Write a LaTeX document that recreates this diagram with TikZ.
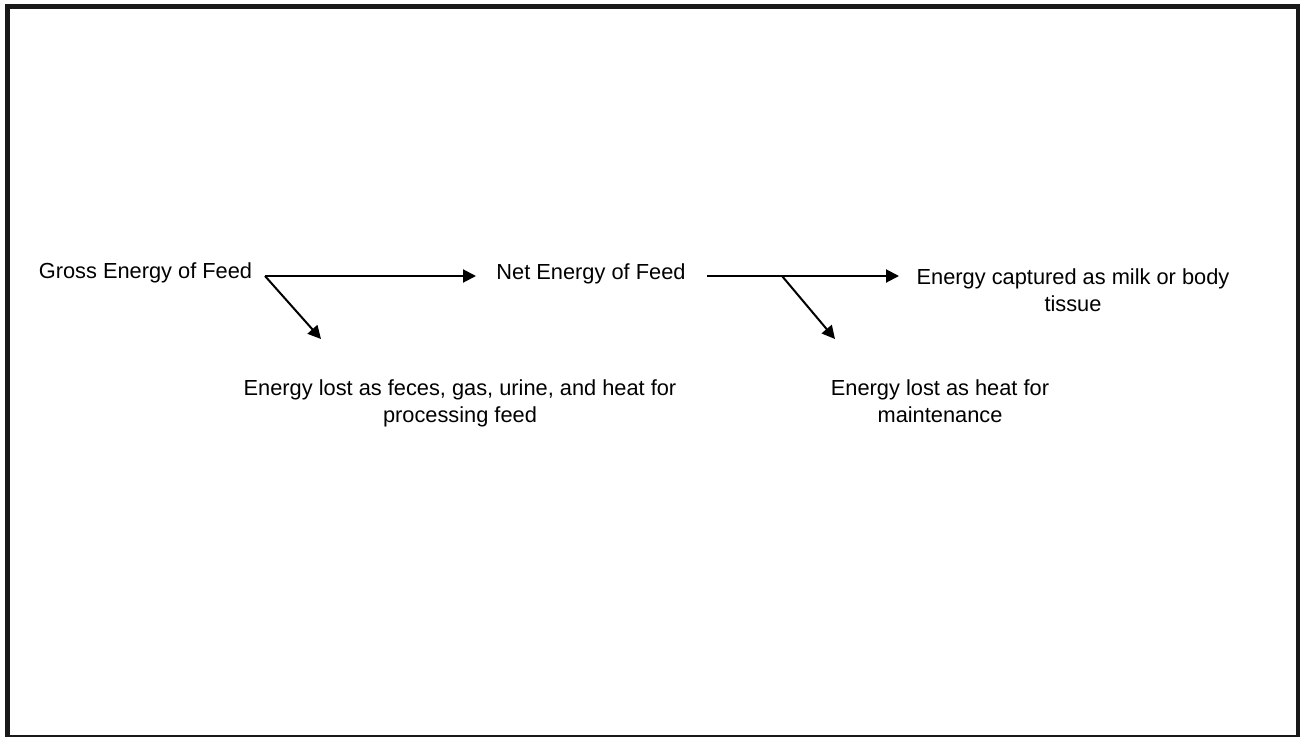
\documentclass[tikz,border=0pt]{standalone}
\usepackage{fontspec}
\setmainfont{Liberation Sans}
\usetikzlibrary{arrows.meta}
\begin{document}
\begin{tikzpicture}[x=1pt,y=-1pt,
  lbl/.style={font=\fontsize{21.8}{27}\selectfont, inner sep=0pt, align=center, anchor=base},
  arr/.style={line width=2pt, -{Triangle[length=13pt,width=13pt]}},
  frame/.style={line width=5pt, draw=black!90}]
\useasboundingbox (0,0) rectangle (1300,736);
\begin{scope}
  \clip (0,0) rectangle (1300,736);
  \draw[frame] (7.5,6.5) rectangle (1298.5,737.5);
\end{scope}
% text nodes (base = baseline of the last line)
\node[lbl] (gross) at (145.5,278) {Gross Energy of Feed};
\node[lbl] (net) at (591,279) {Net Energy of Feed};
\node[lbl] (milk) at (1073,311) {Energy captured as milk or body\\tissue};
\node[lbl] (lost1) at (460,422) {Energy lost as feces, gas, urine, and heat for\\processing feed};
\node[lbl] (lost2) at (940,422) {Energy lost as heat for\\maintenance};
% connector points
\coordinate (b1) at (265,276);
\coordinate (e1) at (476,276);
\coordinate (d1) at (321,339);
\coordinate (s2) at (707,276);
\coordinate (b2) at (782,276);
\coordinate (e2) at (899,276);
\coordinate (d2) at (835,339);
% connectors
\draw[arr] (b1) -- (e1);
\draw[arr] (b1) -- (d1);
\draw[arr] (s2) -- (e2);
\draw[arr] (b2) -- (d2);
\end{tikzpicture}
\end{document}
